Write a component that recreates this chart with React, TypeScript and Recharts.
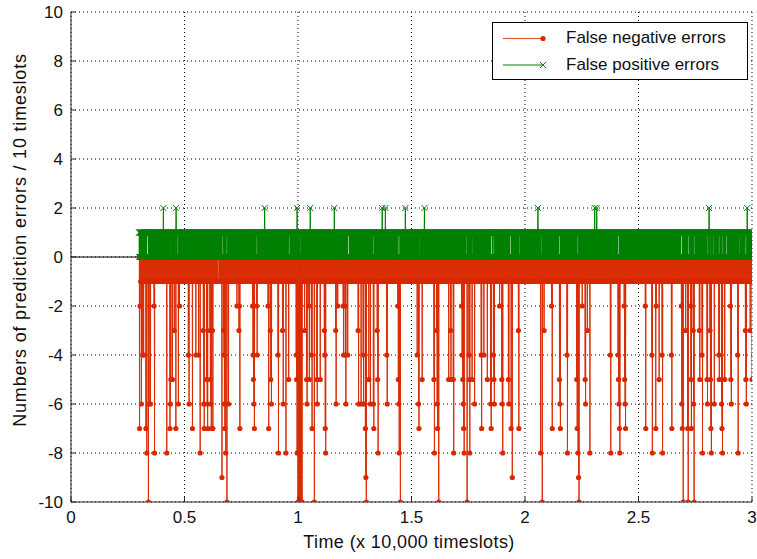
import React from "react";
import { LineChart, Line, XAxis, YAxis, CartesianGrid, Legend } from "recharts";

const FONT = "'Liberation Sans', Arial, sans-serif";
const RED = "#d92800";
const RED_LINE = "#da2c05";
const GREEN = "#008000";

const xTicks = [0, 0.5, 1, 1.5, 2, 2.5, 3];
const yTicks = [-10, -8, -6, -4, -2, 0, 2, 4, 6, 8, 10];

// one reading every 10 timeslots, x in units of 10,000 timeslots
const startX = 0.3;
const endX = 3.0;
const slot = 0.001;

// both series flip between these two levels from slot to slot (the solid bands)
const redBand = [0, -1];
const greenBand = [1, 0];

// false negative bursts [time, errors]
const redSpikes: [number, number][] = [
  [0.302, -7], [0.304, -2], [0.31, -6], [0.316, -4], [0.32, -4], [0.33, -7], [0.334, -8],
  [0.341, -10], [0.344, -6], [0.35, -6], [0.366, -2], [0.368, -8], [0.422, -8], [0.436, -7],
  [0.438, -6], [0.44, -5], [0.447, -5], [0.455, -3], [0.462, -7], [0.473, -6], [0.478, -2],
  [0.517, -4], [0.52, -6], [0.535, -7], [0.55, -4], [0.562, -4], [0.569, -8], [0.583, -3],
  [0.585, -6], [0.587, -7], [0.598, -5], [0.6, -6], [0.602, -7], [0.612, -3], [0.614, -5],
  [0.616, -6], [0.618, -7], [0.623, -3], [0.625, -7], [0.665, -9], [0.672, -3], [0.674, -4],
  [0.676, -6], [0.678, -7], [0.682, -8], [0.687, -10], [0.694, -6], [0.731, -2], [0.74, -3],
  [0.742, -2], [0.744, -7], [0.8, -2], [0.802, -4], [0.804, -5], [0.806, -6], [0.808, -7],
  [0.818, -2], [0.82, -4], [0.868, -2], [0.871, -7], [0.878, -3], [0.88, -5], [0.883, -6],
  [0.912, -4], [0.914, -8], [0.932, -3], [0.935, -6], [0.947, -8], [0.959, -5], [0.992, -4],
  [0.994, -5], [0.996, -8], [1.0, -10], [1.003, -10], [1.006, -10], [1.009, -10], [1.012, -10],
  [1.015, -10], [1.018, -10], [1.029, -3], [1.038, -5], [1.04, -6], [1.048, -2], [1.05, -5],
  [1.059, -4], [1.062, -7], [1.072, -10], [1.083, -5], [1.085, -6], [1.098, -5], [1.116, -3],
  [1.118, -4], [1.12, -7], [1.122, -8], [1.166, -3], [1.168, -6], [1.175, -2], [1.199, -2],
  [1.201, -4], [1.207, -2], [1.209, -4], [1.211, -6], [1.219, -4], [1.265, -3], [1.267, -6],
  [1.278, -6], [1.287, -4], [1.289, -6], [1.297, -7], [1.299, -9], [1.301, -10], [1.312, -5],
  [1.319, -6], [1.332, -6], [1.334, -7], [1.349, -3], [1.351, -5], [1.353, -8], [1.391, -4],
  [1.393, -6], [1.44, -2], [1.442, -5], [1.444, -6], [1.446, -8], [1.451, -10], [1.525, -4],
  [1.531, -6], [1.533, -7], [1.547, -5], [1.599, -5], [1.601, -8], [1.611, -3], [1.613, -6],
  [1.615, -7], [1.62, -10], [1.664, -5], [1.672, -3], [1.674, -5], [1.684, -5], [1.686, -8],
  [1.721, -2], [1.723, -4], [1.726, -5], [1.728, -6], [1.73, -7], [1.732, -8], [1.745, -10],
  [1.753, -4], [1.755, -5], [1.757, -8], [1.767, -5], [1.778, -6], [1.807, -4], [1.809, -7],
  [1.819, -4], [1.834, -5], [1.849, -6], [1.851, -7], [1.861, -4], [1.863, -5], [1.865, -6],
  [1.888, -2], [1.898, -5], [1.9, -6], [1.902, -8], [1.927, -5], [1.929, -6], [1.939, -7],
  [1.944, -9], [1.971, -3], [1.973, -7], [2.069, -8], [2.076, -10], [2.084, -3], [2.117, -2],
  [2.12, -7], [2.152, -5], [2.154, -6], [2.156, -7], [2.185, -4], [2.187, -8], [2.228, -5],
  [2.23, -7], [2.234, -8], [2.236, -9], [2.238, -10], [2.252, -2], [2.265, -5], [2.267, -6],
  [2.275, -3], [2.286, -8], [2.376, -4], [2.378, -8], [2.41, -4], [2.412, -5], [2.414, -6],
  [2.416, -7], [2.418, -8], [2.437, -2], [2.439, -5], [2.441, -6], [2.443, -7], [2.53, -2],
  [2.532, -7], [2.559, -4], [2.561, -8], [2.576, -7], [2.578, -2], [2.591, -5], [2.604, -4],
  [2.606, -8], [2.645, -4], [2.647, -7], [2.689, -2], [2.691, -6], [2.693, -7], [2.697, -10],
  [2.708, -3], [2.717, -7], [2.719, -10], [2.729, -2], [2.731, -5], [2.733, -7], [2.741, -3],
  [2.743, -6], [2.745, -10], [2.768, -3], [2.77, -5], [2.78, -4], [2.782, -8], [2.802, -5],
  [2.804, -6], [2.815, -3], [2.817, -5], [2.819, -7], [2.821, -8], [2.834, -6], [2.854, -4],
  [2.856, -5], [2.866, -6], [2.868, -7], [2.87, -8], [2.88, -5], [2.905, -2], [2.907, -5],
  [2.909, -6], [2.937, -4], [2.939, -8], [2.971, -3], [2.973, -5], [2.975, -6], [2.992, -3],
  [3.0, -5],
];

// false positive bursts [time, errors]
const greenSpikes: [number, number][] = [
  [0.407, 2], [0.463, 2], [0.853, 2], [0.996, 2], [1.054, 2], [1.16, 2], [1.371, 2],
  [1.385, 2], [1.473, 2], [1.557, 2], [2.057, 2], [2.307, 2], [2.316, 2], [2.811, 2],
  [2.979, 2],
];

// short quiet stretches where the band is broken
const greenQuiet = [
  0.326, 0.337, 0.44, 0.471, 0.669, 0.687, 0.819, 0.961, 1.01, 1.066, 1.223, 1.331, 1.392,
  1.441, 1.448, 1.534, 1.742, 1.77, 1.853, 1.863, 1.937, 1.976, 2.072, 2.153, 2.233, 2.411,
  2.689, 2.719, 2.745, 2.804, 2.816, 2.83, 2.855, 2.87, 2.889, 2.944, 2.973,
];
const redQuiet = [0.648];

const idx = (x: number) => Math.round(x / slot);

const buildRows = () => {
  const redMap = new Map(redSpikes.map(([x, v]) => [idx(x), v]));
  const greenMap = new Map(greenSpikes.map(([x, v]) => [idx(x), v]));
  const gQuiet = new Set<number>();
  greenQuiet.forEach((x) => {
    for (let d = -2; d <= 2; d++) gQuiet.add(idx(x) + d);
  });
  const rQuiet = new Set<number>();
  redQuiet.forEach((x) => {
    for (let d = -3; d <= 3; d++) rQuiet.add(idx(x) + d);
  });

  const rows: any[] = [{ t: 0, warm: 0 }];
  const first = idx(startX);
  const last = idx(endX);
  for (let k = first; k <= last; k++) {
    const i = k - first;
    let red: number | null = redBand[i % 2];
    let green: number = greenBand[i % 2];
    // the slots either side of a burst sit on the upper level of the band
    if (redMap.has(k - 1) || redMap.has(k + 1)) red = redBand[0];
    if (rQuiet.has(k)) red = redBand[1];
    if (gQuiet.has(k)) green = 1;
    if (redMap.has(k)) red = redMap.get(k)!;
    if (greenMap.has(k)) green = greenMap.get(k)!;
    rows.push({ t: k / 1000, red, green, warm: k === first ? 0 : undefined });
  }
  return rows;
};

const rows = buildRows();

const RedDot = (p: any) => {
  if (p.cy == null || p.value == null || Number.isNaN(p.cy)) return <g key={p.key} />;
  return <circle key={p.key} cx={p.cx} cy={p.cy} r={2.6} fill={RED} />;
};

const GreenDot = (p: any) => {
  if (p.cy == null || p.value == null || Number.isNaN(p.cy)) return <g key={p.key} />;
  const { cx, cy } = p;
  const s = 3;
  return (
    <path
      key={p.key}
      d={`M${cx - s},${cy - s}L${cx + s},${cy + s}M${cx + s},${cy - s}L${cx - s},${cy + s}`}
      stroke={GREEN}
      strokeWidth={1}
      fill="none"
    />
  );
};

const LegendBox = () => (
  <div
    style={{
      width: 254,
      height: 56,
      border: "1px solid #000",
      background: "#fff",
      position: "relative",
      fontFamily: FONT,
      fontSize: 17,
      color: "#111",
    }}
  >
    <svg width={60} height={56} style={{ position: "absolute", left: 0, top: 0 }}>
      <line x1={10} x2={50} y1={15.5} y2={15.5} stroke="#e0502f" />
      <circle cx={50} cy={15.5} r={2.6} fill={RED} />
      <line x1={10} x2={50} y1={42} y2={42} stroke={GREEN} />
      <path d="M47,39L53,45M53,39L47,45" stroke={GREEN} />
    </svg>
    <div style={{ position: "absolute", left: 73, top: 5, lineHeight: "20px", whiteSpace: "nowrap" }}>
      False negative errors
    </div>
    <div style={{ position: "absolute", left: 73, top: 32, lineHeight: "20px", whiteSpace: "nowrap" }}>
      False positive errors
    </div>
  </div>
);

const XLabel = () => (
  <text
    x={409}
    y={548}
    textAnchor="middle"
    fontFamily={FONT}
    fontSize={18}
    letterSpacing={0.4}
    fill="#111"
  >
    Time (x 10,000 timeslots)
  </text>
);

const YLabel = () => (
  <text
    x={26}
    y={240}
    transform="rotate(-90 26 240)"
    textAnchor="middle"
    fontFamily={FONT}
    fontSize={18}
    letterSpacing={0.8}
    fill="#111"
  >
    Numbers of prediction errors / 10 timeslots
  </text>
);

const tickStyle = { fontFamily: FONT, fontSize: 17, fill: "#111" };
const AXIS = "#262626";

export default function App() {
  return (
    <div style={{ position: "absolute", left: 0, top: 0, width: 757, height: 559, background: "#fff" }}>
      <LineChart width={757} height={559} data={rows} margin={{ top: 12, right: 5, bottom: 0, left: 11 }}>
        <CartesianGrid stroke="#000" strokeDasharray="1 3" />
        <XAxis
          dataKey="t"
          type="number"
          domain={[0, 3]}
          ticks={xTicks}
          allowDataOverflow
          height={57}
          tick={tickStyle}
          tickSize={-5}
          tickMargin={14}
          stroke={AXIS}
          label={<XLabel />}
        />
        <XAxis
          xAxisId="top"
          orientation="top"
          dataKey="t"
          type="number"
          domain={[0, 3]}
          ticks={xTicks}
          allowDataOverflow
          height={0}
          tick={false}
          tickSize={-5}
          stroke={AXIS}
        />
        <YAxis
          type="number"
          domain={[-10, 10]}
          ticks={yTicks}
          allowDataOverflow
          width={60}
          tick={tickStyle}
          tickSize={-5}
          tickMargin={13}
          stroke={AXIS}
          label={<YLabel />}
        />
        <YAxis
          yAxisId="right"
          orientation="right"
          type="number"
          domain={[-10, 10]}
          ticks={yTicks}
          allowDataOverflow
          width={0}
          tick={false}
          tickSize={-5}
          stroke={AXIS}
        />
        <Legend
          layout="vertical"
          align="center"
          verticalAlign="middle"
          content={<LegendBox />}
          wrapperStyle={{ left: 492, top: 22, width: 256, height: 58 }}
        />
        <Line
          dataKey="red"
          stroke={RED_LINE}
          strokeWidth={1}
          dot={RedDot}
          activeDot={false}
          isAnimationActive={false}
          connectNulls={false}
        />
        <Line
          dataKey="green"
          stroke={GREEN}
          strokeWidth={1}
          dot={GreenDot}
          activeDot={false}
          isAnimationActive={false}
          connectNulls={false}
        />
        <Line
          dataKey="warm"
          stroke="#000"
          strokeWidth={1}
          dot={false}
          activeDot={false}
          isAnimationActive={false}
          connectNulls
        />
      </LineChart>
    </div>
  );
}
